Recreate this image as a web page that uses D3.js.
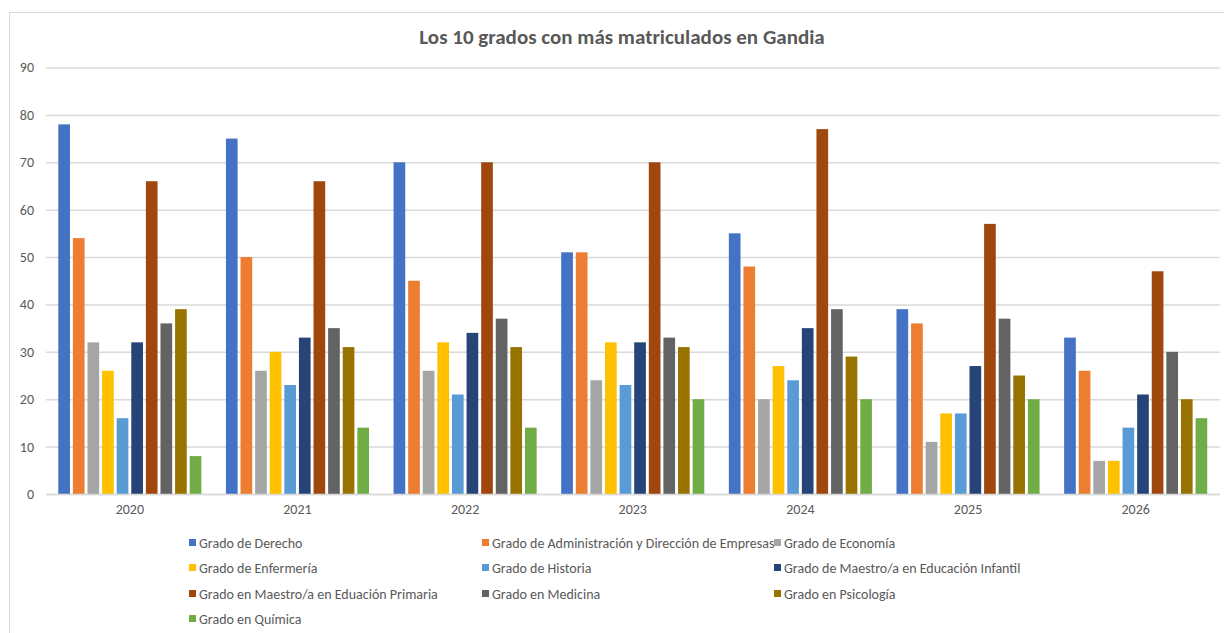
<!DOCTYPE html>
<html><head><meta charset="utf-8">
<script src="https://cdn.jsdelivr.net/npm/d3@7"></script>
<style>body{margin:0;background:#fff}svg{display:block}</style>
</head><body>
<svg id="c" width="1224" height="633"></svg>
<script>
const years = ["2020","2021","2022","2023","2024","2025","2026"];
const seriesNames = [
  "Grado de Derecho",
  "Grado de Administración y Dirección de Empresas",
  "Grado de Economía",
  "Grado de Enfermería",
  "Grado de Historia",
  "Grado de Maestro/a en Educación Infantil",
  "Grado en Maestro/a en Eduación Primaria",
  "Grado en Medicina",
  "Grado en Psicología",
  "Grado en Química"
];
const derecho      = [78,75,70,51,55,39,33];
const ade          = [54,50,45,51,48,36,26];
const economia     = [32,26,26,24,20,11,7];
const enfermeria   = [26,30,32,32,27,17,7];
const historia     = [16,23,21,23,24,17,14];
const infantil     = [32,33,34,32,35,27,21];
const primaria     = [66,66,70,70,77,57,47];
const medicina     = [36,35,37,33,39,37,30];
const psicologia   = [39,31,31,31,29,25,20];
const quimica      = [8,14,14,20,20,20,16];
const seriesValues = [derecho, ade, economia, enfermeria, historia, infantil, primaria, medicina, psicologia, quimica];
const colors = ["#4472C4","#ED7D31","#A5A5A5","#FFC000","#5B9BD5","#264478","#9E480E","#636363","#997300","#70AD47"];
const yTicks = [0,10,20,30,40,50,60,70,80,90];
const title = "Los 10 grados con más matriculados en Gandia";

const svg = d3.select("#c");
const font = "Carlito, Calibri, 'Liberation Sans Narrow', 'Liberation Sans', sans-serif";
const pLeft = 46, pRight = 1219.5, pTop = 67.5, pBottom = 494;

svg.append("rect").attr("x",9.5).attr("y",12.5).attr("width",1230).attr("height",640)
  .attr("fill","#fff").attr("stroke","#d9d9d9").attr("stroke-width",1);

const y = d3.scaleLinear().domain([0,90]).range([pBottom, pTop]);
const x0 = d3.scaleBand().domain(years).range([pLeft, pRight]).paddingInner(0).paddingOuter(0);
const x1 = d3.scaleBand().domain(d3.range(seriesNames.length))
  .range([x0.bandwidth()/2 - 73, x0.bandwidth()/2 + 73]).paddingInner(0.2).paddingOuter(0.1);

// gridlines
const yAxis = d3.axisLeft(y).tickValues(yTicks).tickSize(-(pRight-pLeft)).tickPadding(12).tickFormat(d3.format("d"));
const ga = svg.append("g").attr("transform",`translate(${pLeft},0)`).call(yAxis);
ga.select(".domain").remove();
ga.selectAll(".tick line").attr("stroke","#d9d9d9").attr("stroke-width",1.5);
ga.selectAll(".tick text").attr("fill","#595959").style("font-family",font).style("font-size","14px");

// bars
const groups = svg.append("g").selectAll("g").data(years).join("g")
  .attr("transform", d => `translate(${x0(d)},0)`);
groups.selectAll("rect").data((d,i) => seriesValues.map((s,k) => ({k, v:s[i]}))).join("rect")
  .attr("x", d => x1(d.k)).attr("width", x1.bandwidth())
  .attr("y", d => y(d.v)).attr("height", d => y(0)-y(d.v))
  .attr("fill", d => colors[d.k]);

// x axis
const xAxis = d3.axisBottom(x0).tickSize(0).tickPadding(10);
const gx = svg.append("g").attr("transform",`translate(0,${pBottom})`).call(xAxis);
gx.select(".domain").attr("stroke","#d9d9d9").attr("stroke-width",1.5);
gx.selectAll(".tick text").attr("fill","#595959").style("font-family",font).style("font-size","14px");

// title
svg.append("text").attr("x",622).attr("y",44).attr("text-anchor","middle")
  .attr("fill","#595959").style("font-family",font).style("font-size","21px").style("font-weight","bold")
  .text(title);

// legend
const colX = [189, 482, 774];
const rowY = [543, 568, 594, 619];
const lg = svg.append("g").selectAll("g").data(seriesNames).join("g")
  .attr("transform",(d,i)=>`translate(${colX[i%3]},${rowY[Math.floor(i/3)]})`);
lg.append("rect").attr("x",0).attr("y",-4).attr("width",7).attr("height",7).attr("fill",(d,i)=>colors[i]);
lg.append("text").attr("x",10).attr("y",5).attr("fill","#595959")
  .style("font-family",font).style("font-size","14px").text(d=>d);
</script>
</body></html>
